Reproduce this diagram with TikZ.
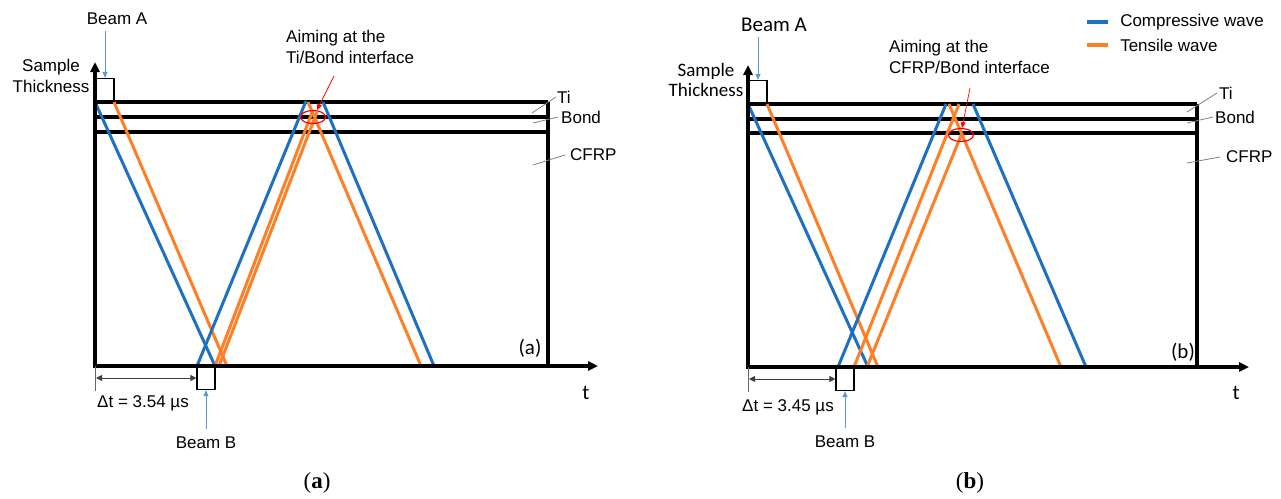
\documentclass[tikz,border=0pt]{standalone}
\usepackage{fontspec}
\setmainfont{Liberation Sans}
\newfontfamily\calib{Carlito}
\newfontfamily\capserif{Liberation Serif}
\usetikzlibrary{arrows.meta,positioning,calc}
\definecolor{WaveBlue}{HTML}{1F70C1}
\definecolor{WaveOrange}{HTML}{FF7F27}
\definecolor{BeamBlue}{HTML}{5B9BD5}
\definecolor{LeadGray}{HTML}{808080}

\begin{document}
\begin{tikzpicture}[x=1pt,y=-1pt,
  lab/.style={inner sep=0pt,font=\fontsize{17}{21}\selectfont},
  big/.style={inner sep=0pt,font=\calib\fontsize{21}{22}\selectfont},
  ax/.style={line width=3.2pt,{Triangle[length=10pt,width=9pt]}-{Triangle[length=10pt,width=9pt]}},
  layer/.style={line width=3.2pt},
  cw/.style={line width=3pt,draw=WaveBlue},
  tw/.style={line width=3pt,draw=WaveOrange},
  bx/.style={draw,line width=1.2pt,inner sep=0pt,minimum width=18pt,minimum height=23pt},
  ba/.style={-{Triangle[length=6pt,width=5pt]},draw=BeamBlue,line width=1pt},
  ld/.style={draw=LeadGray,line width=0.8pt},
  dim/.style={{Triangle[length=6pt,width=6pt]}-{Triangle[length=6pt,width=6pt]},line width=0.9pt,draw=black!75},
  aim/.style={-{Triangle[length=6pt,width=5pt]},draw=red,line width=0.7pt},
  ring/.style={draw=red,line width=1.2pt}]
\path[use as bounding box] (0,0) rectangle (1281,498);

% ---------- panel (a)
\draw[layer] (95,102) -- (548,102);
\draw[layer] (95,117) -- (548,117);
\draw[layer] (95,132) -- (548,132);
\draw[layer] (548,102) -- (548,366);

\draw[cw] (95,102) -- (215,366);
\draw[tw] (114,102) -- (227,366);
\draw[cw] (197,366) -- (306,101);
\draw[tw] (215,366) -- (313,110);
\draw[tw] (219,366) -- (317,112);
\draw[tw] (308,102) -- (421,366);
\draw[cw] (323,102) -- (434,366);

\draw[ax] (95,62) -- (95,366) -- (598,366);

\node[bx] (boxA1) at (105,90) {};
\node[lab] (beamA1) at (117,19) {Beam A};
\draw[ba] (beamA1.south -| boxA1) ++(0,6) -- (boxA1.north);
\node[lab,align=center] (thick1) at (51,76) {Sample\\Thickness};

\node[bx] (boxB1) at (206,378) {};
\node[lab] (beamB1) at (206,443) {Beam B};
\draw[ba] (beamB1.north) ++(0,-8) -- (boxB1.south);
\draw[ld,draw=black!60] (95,366) -- (95,391);
\coordinate (d1) at (96,378);
\draw[dim] (d1) -- (d1 -| boxB1.west);
\node[lab] (dt1) at (143,403) {Δt = 3.54 µs};

\draw[ring] (313,117) ellipse [x radius=12.5pt, y radius=6.5pt];
\node[lab,align=left,anchor=west] (aim1) at (286,47) {Aiming at the\\Ti/Bond interface};
\coordinate (r1) at (317,110);
\draw[aim] (334,76) -- (r1);

\node[lab,anchor=west] (ti1) at (557,97) {Ti};
\node[lab,anchor=west] (bond1) at (561,117) {Bond};
\node[lab,anchor=west] (cfrp1) at (570,155) {CFRP};
\draw[ld] (532,113) -- ([xshift=-1pt]ti1.west);
\draw[ld] (533,123) -- ([xshift=-3pt]bond1.west);
\draw[ld] (533,165) -- ([xshift=-5pt]cfrp1.west);

\node[big] (tagA) at (530,348) {(a)};
\node[big] (tA) at (586,393) {t};

% ---------- panel (b)
\draw[layer] (748,104) -- (1197,104);
\draw[layer] (748,119) -- (1197,119);
\draw[layer] (748,133) -- (1197,133);
\draw[layer] (1197,104) -- (1197,367);

\draw[cw] (748,104) -- (868,367);
\draw[tw] (767,104) -- (878,367);
\draw[cw] (838,367) -- (946,104);
\draw[tw] (854,367) -- (959,104);
\draw[tw] (867,367) -- (962,133);
\draw[tw] (949,104) -- (1061,367);
\draw[cw] (973,104) -- (1086,367);

\draw[ax] (748,65) -- (748,367) -- (1249,367);

\node[bx] (boxA2) at (758,92) {};
\node[big] (beamA2) at (774,25) {Beam A};
\draw[ba] (beamA2.south -| boxA2) ++(0,5) -- (boxA2.north);
\node[inner sep=0pt,font=\calib\fontsize{19}{20}\selectfont,align=center] (thick2) at (706,80) {Sample\\Thickness};

\node[bx] (boxB2) at (845,379) {};
\node[lab] (beamB2) at (845,442) {Beam B};
\draw[ba] (beamB2.north) ++(0,-8) -- (boxB2.south);
\draw[ld,draw=black!60] (748,367) -- (748,392);
\coordinate (d2) at (749,379);
\draw[dim] (d2) -- (d2 -| boxB2.west);
\node[lab] (dt2) at (788,407) {Δt = 3.45 µs};

\draw[ring] (961,135) ellipse [x radius=12.5pt, y radius=6.5pt];
\node[lab,align=left,anchor=west] (aim2) at (889,57) {Aiming at the\\CFRP/Bond interface};
\coordinate (r2) at (962,128);
\draw[aim] (970,88) -- (r2);

\node[lab,anchor=west] (ti2) at (1219,93) {Ti};
\node[lab,anchor=west] (bond2) at (1215,117) {Bond};
\node[lab,anchor=west] (cfrp2) at (1226,157) {CFRP};
\draw[ld] (1187,112) -- ([xshift=-2pt]ti2.west);
\draw[ld] (1187,123) -- ([xshift=-2pt]bond2.west);
\draw[ld] (1187,163) -- ([xshift=-6pt]cfrp2.west);

\node[big] (tagB) at (1183,352) {(b)};
\node[big] (tB) at (1236,393) {t};

% legend
\coordinate (lc) at (1087,22);
\coordinate (lt) at (1087,45);
\draw[cw,line width=4.5pt] (lc) -- ++(21,0) node[lab,anchor=west,xshift=10pt,text=black] (legc) {Compressive wave};
\draw[tw,line width=4.5pt] (lt) -- ++(21,0) node[lab,anchor=west,xshift=10pt,text=black] (legt) {Tensile wave};

% captions
\node[inner sep=0pt,font=\capserif\fontsize{23}{24}\selectfont] (capA) at (317,483) {(\textbf{a})};
\node[inner sep=0pt,font=\capserif\fontsize{23}{24}\selectfont] (capB) at (970,483) {(\textbf{b})};
\end{tikzpicture}
\end{document}
